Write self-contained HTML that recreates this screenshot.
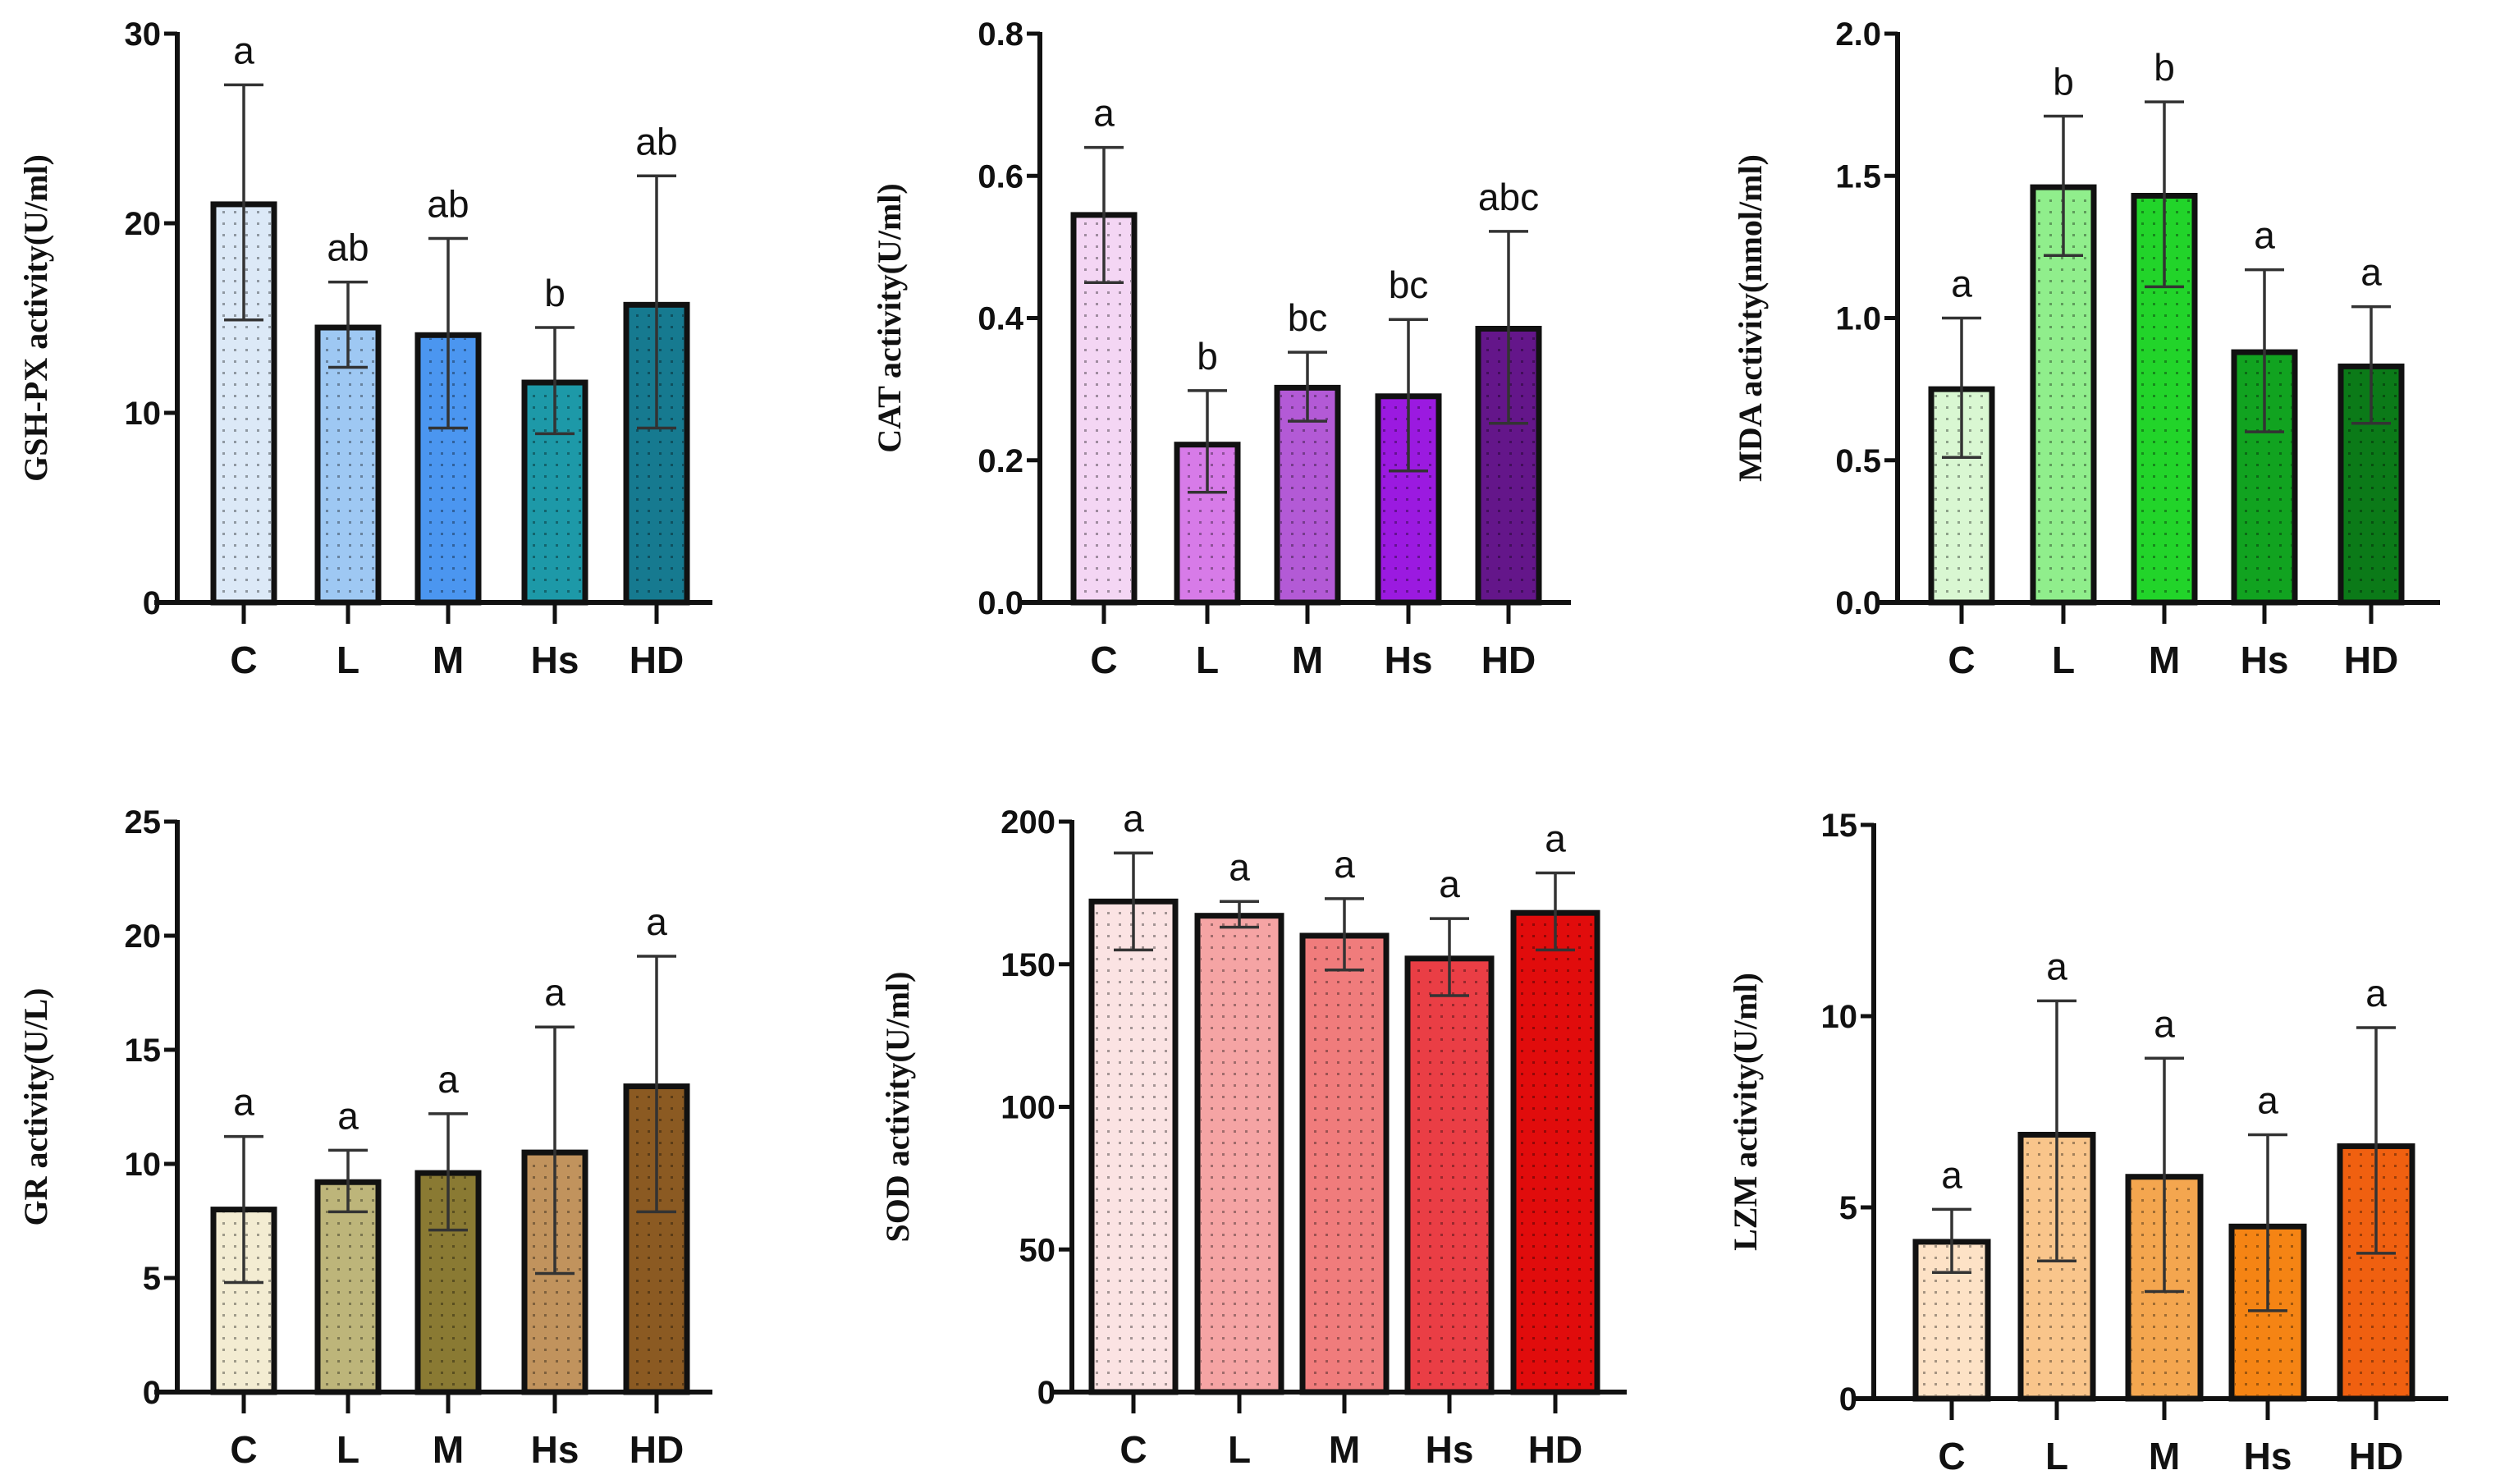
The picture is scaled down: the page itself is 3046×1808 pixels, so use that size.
<!DOCTYPE html>
<html><head><meta charset="utf-8"><style>
html,body{margin:0;padding:0;background:#fff;}
svg{display:block;}
.tick{font-family:"Liberation Sans",sans-serif;font-size:40px;font-weight:bold;fill:#111;}
.cat{font-family:"Liberation Sans",sans-serif;font-size:46px;font-weight:bold;fill:#111;}
.let{font-family:"Liberation Sans",sans-serif;font-size:46px;fill:#111;}
.ttl{font-family:"Liberation Serif",serif;font-size:40px;font-weight:bold;fill:#111;}
</style></head><body>
<svg id="fig" width="3046" height="1808" viewBox="0 0 3046 1808" xmlns="http://www.w3.org/2000/svg">
<defs>
<pattern id="dots" width="14" height="14" patternUnits="userSpaceOnUse">
<rect x="5" y="5" width="3" height="3" fill="rgba(0,0,0,0.35)"/>
</pattern>
</defs>
</svg>
<script>
const categories=["C","L","M","Hs","HD"];
const gshMean=[21.0,14.5,14.1,11.6,15.7];
const gshUp=[27.3,16.9,19.2,14.5,22.5];
const gshLo=[14.9,12.4,9.2,8.9,9.2];
const gshLetters=["a","ab","ab","b","ab"];
const gshTicks=[0,10,20,30];
const catMean=[0.545,0.222,0.302,0.29,0.385];
const catUp=[0.64,0.298,0.352,0.398,0.522];
const catLo=[0.45,0.155,0.255,0.185,0.252];
const catLetters=["a","b","bc","bc","abc"];
const catTicks=[0,0.2,0.4,0.6,0.8];
const mdaMean=[0.75,1.46,1.43,0.88,0.83];
const mdaUp=[1.0,1.71,1.76,1.17,1.04];
const mdaLo=[0.51,1.22,1.11,0.6,0.63];
const mdaLetters=["a","b","b","a","a"];
const mdaTicks=[0,0.5,1.0,1.5,2.0];
const grMean=[8.0,9.2,9.6,10.5,13.4];
const grUp=[11.2,10.6,12.2,16.0,19.1];
const grLo=[4.8,7.9,7.1,5.2,7.9];
const grLetters=["a","a","a","a","a"];
const grTicks=[0,5,10,15,20,25];
const sodMean=[172,167,160,152,168];
const sodUp=[189,172,173,166,182];
const sodLo=[155,163,148,139,155];
const sodLetters=["a","a","a","a","a"];
const sodTicks=[0,50,100,150,200];
const lzmMean=[4.1,6.9,5.8,4.5,6.6];
const lzmUp=[4.95,10.4,8.9,6.9,9.7];
const lzmLo=[3.3,3.6,2.8,2.3,3.8];
const lzmLetters=["a","a","a","a","a"];
const lzmTicks=[0,5,10,15];

const NS="http://www.w3.org/2000/svg";
const svg=document.getElementById('fig');
function mk(tag,attrs,parent){const e=document.createElementNS(NS,tag);for(const k in attrs)e.setAttribute(k,attrs[k]);(parent||svg).appendChild(e);return e;}

const panels=[
 {id:"gsh",title:"GSH-PX activity(U/ml)",mean:gshMean,up:gshUp,lo:gshLo,letters:gshLetters,ticks:gshTicks,dec:0,
  ax:216,x0:188,x1:868,top:41,zero:734,centers:[297,424,546,676,800],bw:74,tx:48,cy:820,
  colors:["#dce9f7","#9ec8f3","#4b96f0","#1d99a8","#167a90"]},
 {id:"cat",title:"CAT activity(U/ml)",mean:catMean,up:catUp,lo:catLo,letters:catLetters,ticks:catTicks,dec:1,
  ax:1267,x0:1240,x1:1914,top:41,zero:734,centers:[1345,1471,1593,1716,1838],bw:74,tx:1088,cy:820,
  colors:["#f4d6f4","#d77be8","#b35ad6","#9b1ae0","#64168a"]},
 {id:"mda",title:"MDA activity(nmol/ml)",mean:mdaMean,up:mdaUp,lo:mdaLo,letters:mdaLetters,ticks:mdaTicks,dec:1,
  ax:2312,x0:2285,x1:2973,top:41,zero:734,centers:[2390,2514,2637,2759,2889],bw:74,tx:2137,cy:820,
  colors:["#d9f7d2","#90ee8c","#22d42a","#11a320","#0b7a18"]},
 {id:"gr",title:"GR activity(U/L)",mean:grMean,up:grUp,lo:grLo,letters:grLetters,ticks:grTicks,dec:0,
  ax:216,x0:188,x1:868,top:1001,zero:1696,centers:[297,424,546,676,800],bw:74,tx:48,cy:1782,
  colors:["#f3ecd2","#bdb57a","#8a7a33","#c1935d","#8b5a22"]},
 {id:"sod",title:"SOD activity(U/ml)",mean:sodMean,up:sodUp,lo:sodLo,letters:sodLetters,ticks:sodTicks,dec:0,
  ax:1306,x0:1280,x1:1982,top:1001,zero:1696,centers:[1381,1510,1638,1766,1895],bw:102,tx:1098,cy:1782,
  colors:["#fbe3e3","#f5a4a4","#f07c7c","#ea3e45","#e10c0c"]},
 {id:"lzm",title:"LZM activity(U/ml)",mean:lzmMean,up:lzmUp,lo:lzmLo,letters:lzmLetters,ticks:lzmTicks,dec:0,
  ax:2283,x0:2256,x1:2983,top:1005,zero:1704,centers:[2378,2506,2637,2763,2895],bw:88,tx:2131,cy:1790,
  colors:["#fde2c6","#f9c58b","#f4a64f","#f58414","#f06010"]}
];

panels.forEach(p=>{
  const g=mk('g',{});
  
  
  const max=p.ticks[p.ticks.length-1];
  const y=v=>p.zero-(v/max)*(p.zero-p.top);
  p.mean.forEach((v,i)=>{
    const cx=p.centers[i];
    const r=mk('rect',{x:cx-p.bw/2,y:y(v),width:p.bw,height:p.zero-y(v),fill:p.colors[i],stroke:'#111','stroke-width':7},g);
    
    
    const d=mk('rect',{x:cx-p.bw/2+4,y:y(v)+4,width:Math.max(0,p.bw-8),height:Math.max(0,p.zero-y(v)-8),fill:'url(#dots)'},g);
    
    
  });
  p.mean.forEach((v,i)=>{
    const cx=p.centers[i];
    const e=mk('g',{stroke:'#333','stroke-width':3.5},g);
    
    
    mk('line',{x1:cx,x2:cx,y1:y(p.up[i]),y2:y(p.lo[i])},e);
    mk('line',{x1:cx-24,x2:cx+24,y1:y(p.up[i]),y2:y(p.up[i])},e);
    mk('line',{x1:cx-24,x2:cx+24,y1:y(p.lo[i]),y2:y(p.lo[i])},e);
    const t=mk('text',{x:cx,y:y(p.up[i])-26,'text-anchor':'middle',class:'let'},g);
    t.textContent=p.letters[i];
    
    
  });
  const ya=mk('line',{x1:p.ax,x2:p.ax,y1:p.top-2,y2:p.zero,stroke:'#111','stroke-width':6},g);
  
  
  const xa=mk('line',{x1:p.x0,x2:p.x1,y1:p.zero,y2:p.zero,stroke:'#111','stroke-width':6},g);
  
  
  p.ticks.forEach(tv=>{
    mk('line',{x1:p.ax-16,x2:p.ax,y1:y(tv),y2:y(tv),stroke:'#111','stroke-width':5},g);
    const t=mk('text',{x:p.ax-20,y:y(tv)+14,'text-anchor':'end',class:'tick'},g);
    t.textContent=tv.toFixed(p.dec);
    
    
  });
  categories.forEach((c,i)=>{
    const cx=p.centers[i];
    mk('line',{x1:cx,x2:cx,y1:p.zero,y2:p.zero+26,stroke:'#111','stroke-width':5},g);
    const t=mk('text',{x:cx,y:p.cy,'text-anchor':'middle',class:'cat'},g);
    t.textContent=c;
    
    
  });
  const my=(p.top+p.zero)/2;
  const tt=mk('text',{x:p.tx,y:my,'text-anchor':'middle','dominant-baseline':'middle',class:'ttl',transform:'rotate(-90 '+p.tx+' '+my+')'},g);
  tt.textContent=p.title;
  
  
});
</script>
</body></html>
